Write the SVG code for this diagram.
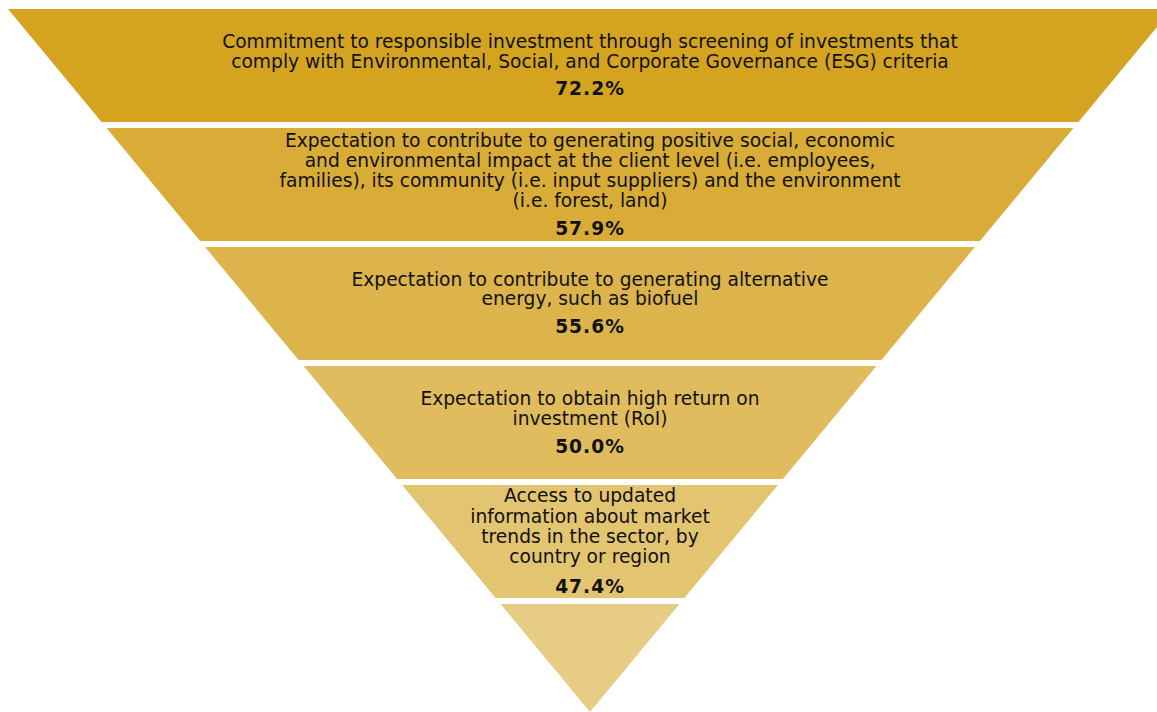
<svg xmlns="http://www.w3.org/2000/svg" width="1157" height="712" viewBox="0 0 1157 712">
<style>
  .t { font-family: "DejaVu Sans", Verdana, sans-serif; font-size: 18.67px; fill: #111; text-anchor: middle; }
  .p { font-family: "DejaVu Sans", Verdana, sans-serif; font-size: 18.67px; font-weight: bold; letter-spacing: 1px; fill: #111; text-anchor: middle; }
</style>
<rect width="1157" height="712" fill="#fff"/>
<g id="band1">
  <polygon points="8,9 1172,9 1078.45,122 101.55,122" fill="#D4A421"/>
  <text class="t" x="590" y="48">Commitment to responsible investment through screening of investments that</text>
  <text class="t" x="590" y="68">comply with Environmental, Social, and Corporate Governance (ESG) criteria</text>
  <text class="p" x="590" y="95">72.2%</text>
</g>
<g id="band2">
  <polygon points="106.52,128 1073.48,128 979.93,241 200.07,241" fill="#D8AC37"/>
  <text class="t" x="590" y="147">Expectation to contribute to generating positive social, economic</text>
  <text class="t" x="590" y="167">and environmental impact at the client level (i.e. employees,</text>
  <text class="t" x="590" y="187">families), its community (i.e. input suppliers) and the environment</text>
  <text class="t" x="590" y="207">(i.e. forest, land)</text>
  <text class="p" x="590" y="235">57.9%</text>
</g>
<g id="band3">
  <polygon points="205.04,247 974.96,247 881.41,360 298.59,360" fill="#DCB44B"/>
  <text class="t" x="590" y="286">Expectation to contribute to generating alternative</text>
  <text class="t" x="590" y="305">energy, such as biofuel</text>
  <text class="p" x="590" y="333">55.6%</text>
</g>
<g id="band4">
  <polygon points="303.55,366 876.45,366 782.9,479 397.1,479" fill="#E0BC5E"/>
  <text class="t" x="590" y="405">Expectation to obtain high return on</text>
  <text class="t" x="590" y="425">investment (RoI)</text>
  <text class="p" x="590" y="453">50.0%</text>
</g>
<g id="band5">
  <polygon points="402.07,485 777.93,485 684.38,598 495.62,598" fill="#E3C470"/>
  <text class="t" x="590" y="502">Access to updated</text>
  <text class="t" x="590" y="523">information about market</text>
  <text class="t" x="590" y="543">trends in the sector, by</text>
  <text class="t" x="590" y="563">country or region</text>
  <text class="p" x="590" y="593">47.4%</text>
</g>
<g id="band6">
  <polygon points="500.59,604 679.41,604 590,712" fill="#E6CC84"/>
</g>
<g id="connectors"/>
</svg>
